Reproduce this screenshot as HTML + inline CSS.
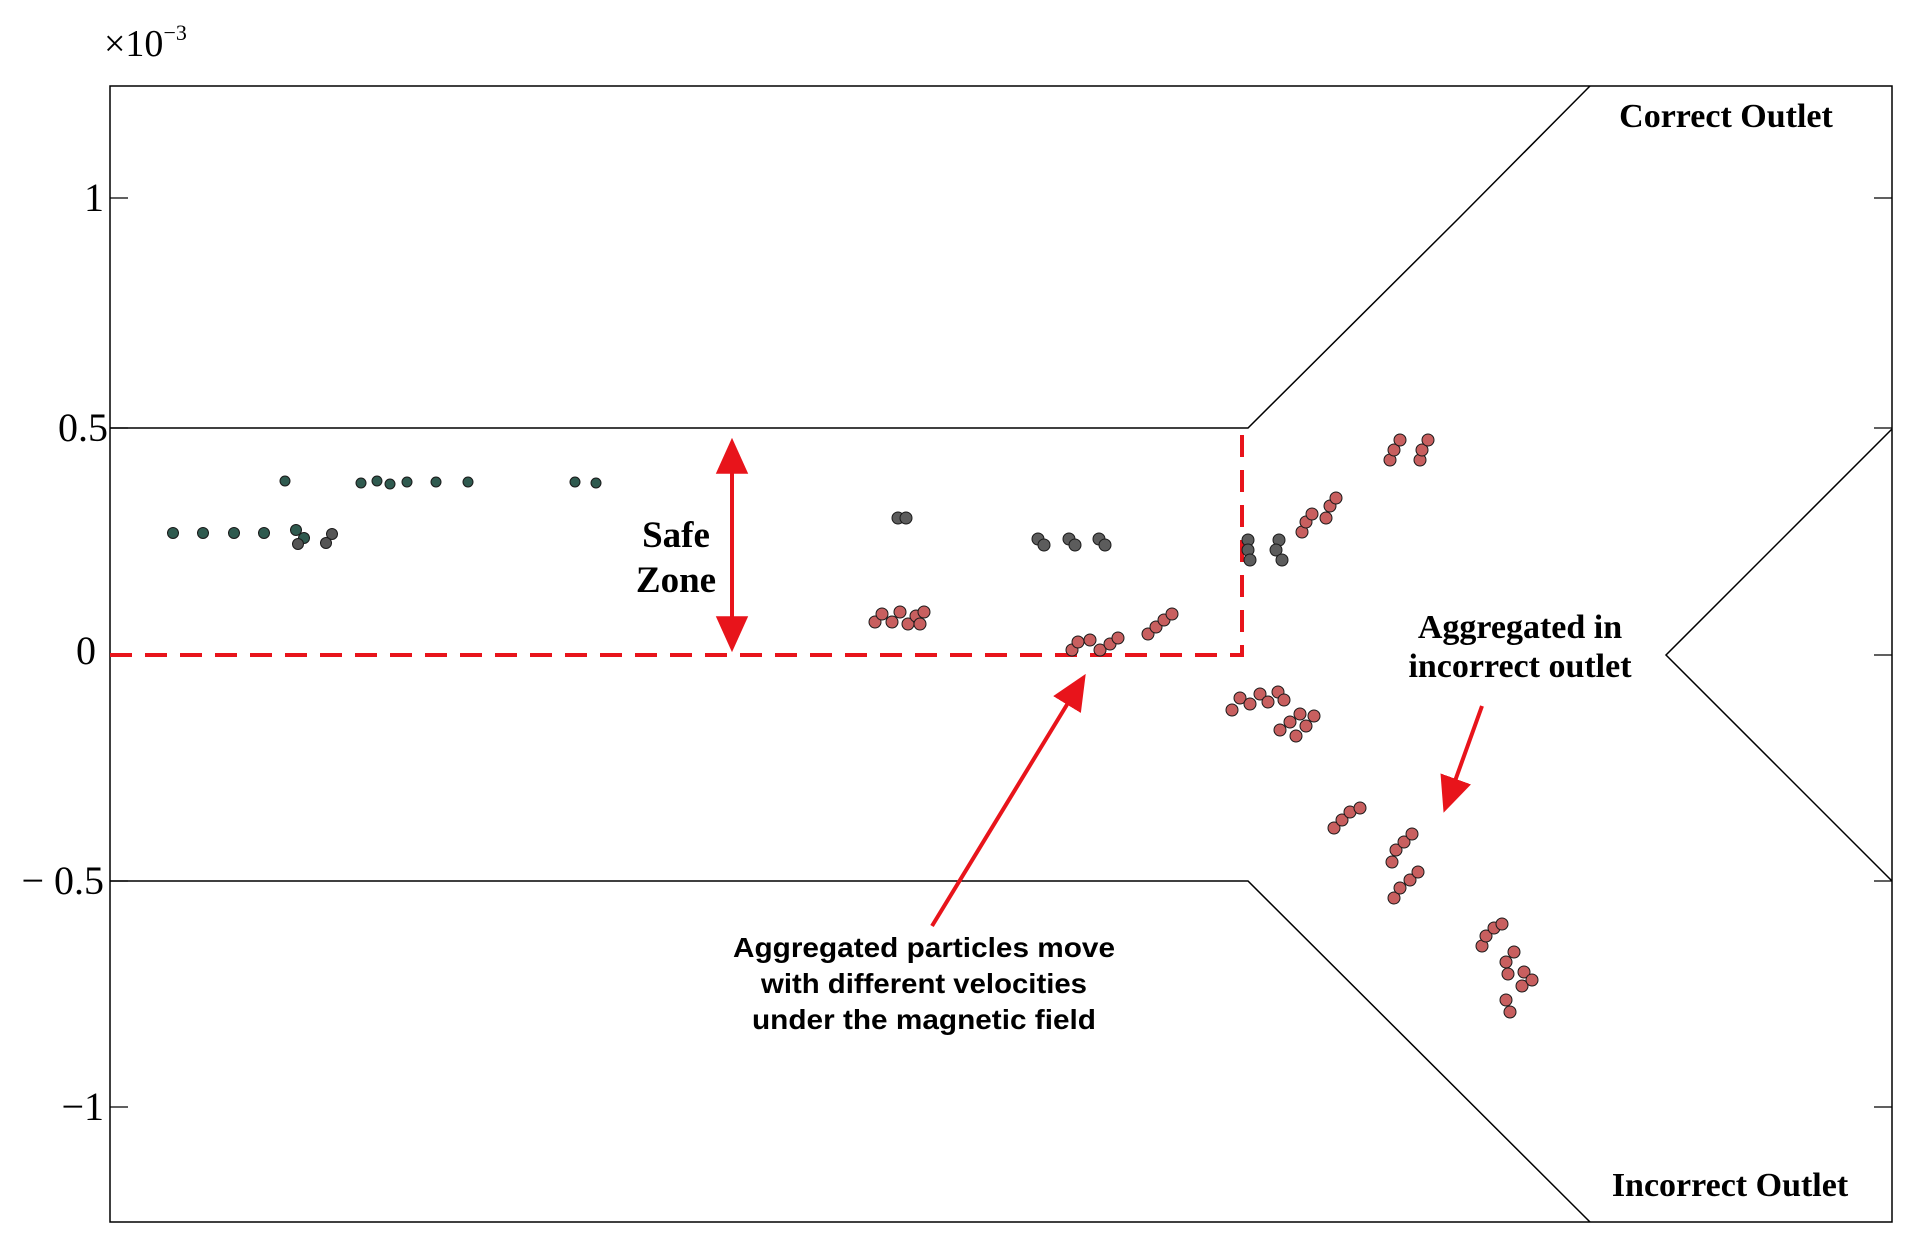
<!DOCTYPE html>
<html><head><meta charset="utf-8"><style>html,body{margin:0;padding:0;background:#fff}svg{display:block}</style></head>
<body>
<svg width="1910" height="1244" viewBox="0 0 1910 1244" xmlns="http://www.w3.org/2000/svg">
<defs>
<marker id="ah" viewBox="0 0 10 10" refX="8" refY="5" markerWidth="9" markerHeight="9" orient="auto-start-reverse" markerUnits="strokeWidth"><path d="M0,0.5 L10,5 L0,9.5 z" fill="#e8141b"/></marker>
</defs>
<rect x="110" y="86" width="1782" height="1136" fill="none" stroke="#000" stroke-width="1.5"/>
<g stroke="#000" stroke-width="1.3">
<line x1="110" y1="198" x2="128" y2="198"/><line x1="110" y1="428" x2="128" y2="428"/><line x1="110" y1="655" x2="128" y2="655"/><line x1="110" y1="881" x2="128" y2="881"/><line x1="110" y1="1107" x2="128" y2="1107"/>
<line x1="1892" y1="198" x2="1874" y2="198"/><line x1="1892" y1="428" x2="1874" y2="428"/><line x1="1892" y1="655" x2="1874" y2="655"/><line x1="1892" y1="881" x2="1874" y2="881"/><line x1="1892" y1="1107" x2="1874" y2="1107"/>
</g>
<g fill="none" stroke="#000" stroke-width="1.5">
<polyline points="110,428 1248,428 1458,219 1590,86"/>
<polyline points="110,881 1248,881 1590,1222"/>
<polyline points="1892,429 1666,655 1892,881"/>
</g>
<g font-family="Liberation Serif, serif" font-size="40" fill="#000">
<text x="104" y="211" text-anchor="end">1</text>
<text x="108" y="441" text-anchor="end">0.5</text>
<text x="96" y="664" text-anchor="end">0</text>
<text x="104" y="894" text-anchor="end">− 0.5</text>
<text x="104" y="1120" text-anchor="end">−1</text>
<text x="104" y="56" font-size="38">×10<tspan font-size="22" dy="-16">−3</tspan></text>
</g>
<polyline points="110,655 1242,655 1242,429" fill="none" stroke="#e8141b" stroke-width="4" stroke-dasharray="22,13"/>
<g stroke="#e8141b" stroke-width="4" fill="none">
<line x1="732" y1="445" x2="732" y2="645" marker-start="url(#ah)" marker-end="url(#ah)"/>
<line x1="932" y1="926" x2="1082" y2="680" marker-end="url(#ah)"/>
<line x1="1482" y1="706" x2="1446" y2="806" marker-end="url(#ah)"/>
</g>
<g font-family="Liberation Serif, serif" font-weight="bold" fill="#000">
<text x="676" y="547" font-size="37" text-anchor="middle">Safe</text>
<text x="676" y="592" font-size="37" text-anchor="middle">Zone</text>
<text x="1726" y="127" font-size="34" text-anchor="middle">Correct Outlet</text>
<text x="1730" y="1196" font-size="34" text-anchor="middle">Incorrect Outlet</text>
<text x="1520" y="638" font-size="34" text-anchor="middle">Aggregated in</text>
<text x="1520" y="677" font-size="34" text-anchor="middle">incorrect outlet</text>
</g>
<g font-family="Liberation Sans, sans-serif" font-weight="bold" font-size="28" fill="#000" text-anchor="middle">
<text x="924" y="957" textLength="382" lengthAdjust="spacingAndGlyphs">Aggregated particles move</text>
<text x="924" y="993" textLength="326" lengthAdjust="spacingAndGlyphs">with different velocities</text>
<text x="924" y="1029" textLength="344" lengthAdjust="spacingAndGlyphs">under the magnetic field</text>
</g>
<g fill="#2f5a4f" stroke="#1a1a1a" stroke-width="1">
<circle cx="173" cy="533" r="5.5"/><circle cx="203" cy="533" r="5.5"/><circle cx="234" cy="533" r="5.5"/><circle cx="264" cy="533" r="5.5"/>
<circle cx="296" cy="530" r="5.5"/><circle cx="304" cy="538" r="5.5"/><circle cx="298" cy="544" r="5.5" fill="#555"/><circle cx="332" cy="534" r="5.5" fill="#555"/><circle cx="326" cy="543" r="5.5" fill="#555"/>
<circle cx="285" cy="481" r="5"/><circle cx="361" cy="483" r="5"/><circle cx="377" cy="481" r="5"/><circle cx="390" cy="484" r="5"/><circle cx="407" cy="482" r="5"/><circle cx="436" cy="482" r="5"/><circle cx="468" cy="482" r="5"/><circle cx="575" cy="482" r="5"/><circle cx="596" cy="483" r="5"/>
</g>
<g fill="#5c5c5c" stroke="#1a1a1a" stroke-width="1">
<circle cx="898" cy="518" r="6"/><circle cx="906" cy="518" r="6"/>
<circle cx="1038" cy="539" r="6"/><circle cx="1044" cy="545" r="6"/><circle cx="1069" cy="539" r="6"/><circle cx="1075" cy="545" r="6"/><circle cx="1099" cy="539" r="6"/><circle cx="1105" cy="545" r="6"/>
<circle cx="1248" cy="540" r="6"/><circle cx="1248" cy="550" r="6"/><circle cx="1250" cy="560" r="6"/><circle cx="1279" cy="540" r="6"/><circle cx="1276" cy="550" r="6"/><circle cx="1282" cy="560" r="6"/>
</g>
<g fill="#c85f5f" stroke="#1a1a1a" stroke-width="1">
<circle cx="875" cy="622" r="6"/><circle cx="882" cy="614" r="6"/><circle cx="892" cy="622" r="6"/><circle cx="900" cy="612" r="6"/><circle cx="908" cy="624" r="6"/><circle cx="916" cy="616" r="6"/><circle cx="924" cy="612" r="6"/><circle cx="920" cy="624" r="6"/>
<circle cx="1148" cy="634" r="6"/><circle cx="1156" cy="627" r="6"/><circle cx="1164" cy="620" r="6"/><circle cx="1172" cy="614" r="6"/>
<circle cx="1072" cy="650" r="6"/><circle cx="1078" cy="642" r="6"/><circle cx="1090" cy="640" r="6"/><circle cx="1100" cy="650" r="6"/><circle cx="1110" cy="644" r="6"/><circle cx="1118" cy="638" r="6"/>
<circle cx="1302" cy="532" r="6"/><circle cx="1306" cy="522" r="6"/><circle cx="1312" cy="514" r="6"/><circle cx="1326" cy="518" r="6"/><circle cx="1330" cy="506" r="6"/><circle cx="1336" cy="498" r="6"/>
<circle cx="1390" cy="460" r="6"/><circle cx="1394" cy="450" r="6"/><circle cx="1400" cy="440" r="6"/><circle cx="1420" cy="460" r="6"/><circle cx="1422" cy="450" r="6"/><circle cx="1428" cy="440" r="6"/>
<circle cx="1232" cy="710" r="6"/><circle cx="1240" cy="698" r="6"/><circle cx="1250" cy="704" r="6"/><circle cx="1260" cy="694" r="6"/><circle cx="1268" cy="702" r="6"/><circle cx="1278" cy="692" r="6"/><circle cx="1284" cy="700" r="6"/>
<circle cx="1280" cy="730" r="6"/><circle cx="1290" cy="722" r="6"/><circle cx="1300" cy="714" r="6"/><circle cx="1306" cy="726" r="6"/><circle cx="1314" cy="716" r="6"/><circle cx="1296" cy="736" r="6"/>
<circle cx="1334" cy="828" r="6"/><circle cx="1342" cy="820" r="6"/><circle cx="1350" cy="812" r="6"/><circle cx="1360" cy="808" r="6"/>
<circle cx="1392" cy="862" r="6"/><circle cx="1396" cy="850" r="6"/><circle cx="1404" cy="842" r="6"/><circle cx="1412" cy="834" r="6"/><circle cx="1394" cy="898" r="6"/><circle cx="1400" cy="888" r="6"/><circle cx="1410" cy="880" r="6"/><circle cx="1418" cy="872" r="6"/>
<circle cx="1482" cy="946" r="6"/><circle cx="1486" cy="936" r="6"/><circle cx="1494" cy="928" r="6"/><circle cx="1502" cy="924" r="6"/><circle cx="1506" cy="962" r="6"/><circle cx="1508" cy="974" r="6"/><circle cx="1514" cy="952" r="6"/><circle cx="1522" cy="986" r="6"/><circle cx="1524" cy="972" r="6"/><circle cx="1532" cy="980" r="6"/><circle cx="1506" cy="1000" r="6"/><circle cx="1510" cy="1012" r="6"/>
</g>
</svg>
</body></html>
